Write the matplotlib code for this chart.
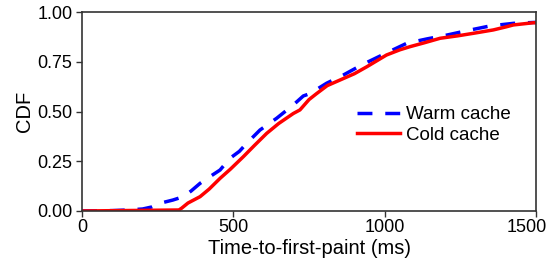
import matplotlib
matplotlib.use('Agg')
import matplotlib.pyplot as plt
import matplotlib.transforms as mtrans

plt.rcParams['font.family'] = ['Liberation Sans', 'DejaVu Sans']

# CDF points (time in ms)
warm_ms = [0, 100, 150, 200, 230, 258, 300, 335, 360, 390, 420, 456, 489, 520, 544,
           588, 643, 698, 731, 753, 808, 863, 924, 1000, 1073, 1140, 1205, 1271,
           1348, 1425, 1500]
warm_cdf = [0, 0.002, 0.005, 0.01, 0.02, 0.039, 0.055, 0.072, 0.1, 0.139, 0.17,
            0.206, 0.265, 0.30, 0.34, 0.407, 0.466, 0.533, 0.578, 0.59, 0.642,
            0.683, 0.734, 0.79, 0.843, 0.865, 0.884, 0.906, 0.93, 0.943, 0.948]

cold_ms = [0, 320, 329, 350, 390, 420, 456, 490, 533, 570, 610, 650, 698, 720, 750,
           775, 810, 852, 900, 941, 1006, 1050, 1084, 1130, 1183, 1240, 1293, 1359,
           1400, 1425, 1491, 1500]
cold_cdf = [0, 0.005, 0.014, 0.04, 0.072, 0.11, 0.164, 0.21, 0.273, 0.33, 0.39,
            0.44, 0.49, 0.508, 0.56, 0.59, 0.63, 0.658, 0.69, 0.725, 0.784, 0.81,
            0.826, 0.845, 0.868, 0.88, 0.893, 0.91, 0.925, 0.935, 0.946, 0.946]

x_ticks = [0, 500, 1000, 1500]
y_ticks = [0.00, 0.25, 0.50, 0.75, 1.00]

fig = plt.figure(figsize=(5.52, 2.6), dpi=100)
ax = fig.add_axes([0.1486, 0.1885, 0.8225, 0.7653])

ax.plot(warm_ms, warm_cdf, color='blue', lw=2.5, linestyle=(0, (4.3, 3.7)), label='Warm cache')
ax.plot(cold_ms, cold_cdf, color='red', lw=2.5, label='Cold cache')

ax.set_xlim(0, 1500)
ax.set_ylim(0, 1)
ax.set_xticks(x_ticks)
ax.set_yticks(y_ticks)
ax.set_yticklabels([f'{v:.2f}' for v in y_ticks])
ax.set_xlabel('Time-to-first-paint (ms)', fontsize=14.5, labelpad=2)
ax.set_ylabel('CDF', fontsize=14.5, labelpad=2.5)
ax.tick_params(labelsize=13, length=4.3, width=1.0, color='#333333')
ax.tick_params(axis='x', pad=1.5)
ax.tick_params(axis='y', pad=2.5)
for s in ax.spines.values():
    s.set_color('#333333')
    s.set_linewidth(1.2)

# last x label sits a bit left of its tick in the reference
last = ax.get_xticklabels()[-1]
last.set_transform(last.get_transform() + mtrans.ScaledTranslation(-9 / 100, 0, fig.dpi_scale_trans))

ax.legend(loc='center left', bbox_to_anchor=(0.606, 0.432), frameon=False,
          fontsize=13.5, borderpad=0, borderaxespad=0, handlelength=2.3,
          handletextpad=0.3, labelspacing=0.2)

plt.savefig('out.png', dpi=100)
